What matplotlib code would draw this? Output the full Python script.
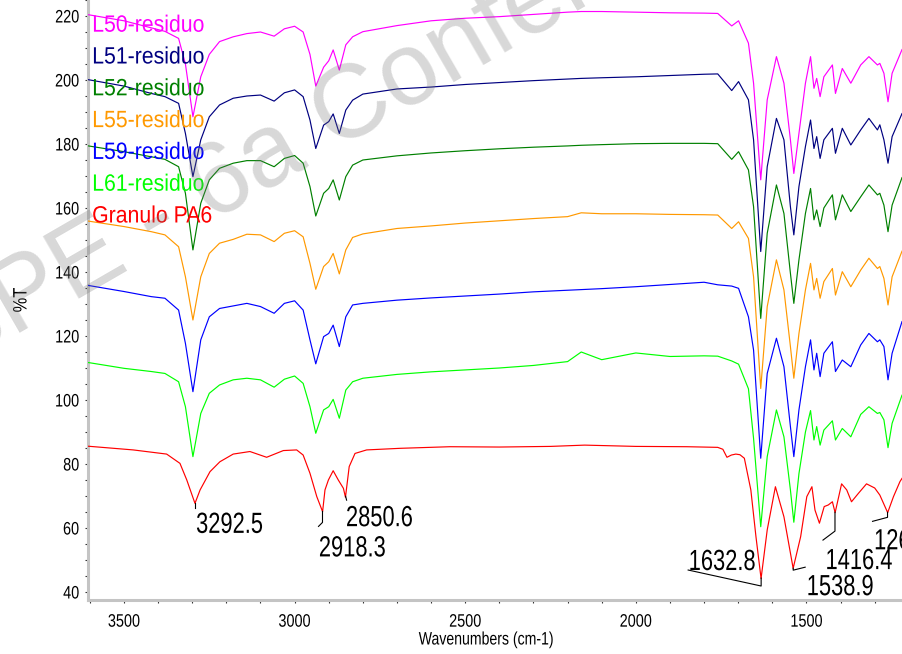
import numpy as np
import matplotlib
matplotlib.use("Agg")
import matplotlib.pyplot as plt
from matplotlib.lines import Line2D
from matplotlib.transforms import IdentityTransform, Affine2D
from matplotlib.ticker import MultipleLocator
from matplotlib.patheffects import AbstractPathEffect

# ---------------- data ----------------
wavenumber = [3610, 3500, 3420, 3380, 3340, 3320, 3298, 3275, 3250, 3220,
              3180, 3140, 3100, 3060, 3030, 3000, 2975, 2955, 2938, 2915,
              2900, 2887, 2869, 2850, 2830, 2800, 2700, 2600, 2500, 2400,
              2300, 2200, 2160, 2100, 2000, 1900, 1800, 1760, 1719, 1699,
              1670, 1655, 1634, 1615, 1588, 1566, 1547, 1537, 1522, 1503,
              1488, 1478, 1470, 1460, 1449, 1424, 1415, 1395, 1370, 1341,
              1317, 1292, 1285, 1273, 1261, 1249, 1220]

l50 = [220.5, 218.5, 216.3, 215.2, 213.0, 205.0, 188.5, 201.0, 208.0, 212.0,
       213.5, 214.5, 215.0, 213.7, 216.0, 216.8, 215.0, 208.0, 198.1, 204.0,
       206.0, 209.4, 203.1, 211.0, 213.5, 215.1, 217.0, 218.5, 219.3, 219.8,
       220.5, 221.2, 221.4, 221.4, 221.2, 221.0, 220.9, 220.8, 216.9, 218.5,
       211.5, 199.0, 168.8, 193.8, 207.3, 199.0, 181.3, 170.8, 183.3, 199.0,
       207.3, 197.4, 200.5, 194.8, 201.0, 204.7, 195.8, 203.6, 199.0, 204.7,
       207.3, 204.7, 205.2, 202.1, 193.2, 202.1, 209.5]

l51 = [200.2, 198.1, 195.8, 194.8, 192.7, 183.3, 169.8, 181.3, 188.5, 192.2,
       194.3, 195.0, 195.3, 193.4, 196.0, 196.9, 194.8, 187.5, 178.6, 185.9,
       187.0, 189.4, 183.3, 190.6, 193.7, 195.6, 197.2, 197.8, 198.6, 199.2,
       199.8, 200.3, 200.5, 200.7, 201.0, 201.4, 201.8, 201.9, 196.7, 199.5,
       193.8, 181.3, 146.4, 172.9, 188.0, 181.3, 160.4, 151.6, 166.7, 179.2,
       187.5, 178.6, 182.3, 175.5, 181.3, 184.9, 177.1, 184.9, 179.7, 184.4,
       188.0, 184.4, 186.0, 181.3, 174.0, 182.3, 189.5]

l52 = [179.5, 177.6, 176.0, 175.2, 172.9, 164.6, 146.9, 161.5, 168.8, 172.4,
       174.0, 174.8, 174.8, 172.9, 175.5, 176.4, 174.0, 166.7, 157.5, 164.6,
       166.1, 168.8, 162.5, 169.8, 173.4, 175.0, 176.3, 177.2, 177.9, 178.5,
       179.0, 179.4, 179.6, 179.8, 180.1, 180.2, 180.2, 180.1, 175.2, 177.6,
       171.9, 160.4, 125.5, 152.1, 167.2, 158.3, 139.6, 130.2, 143.8, 158.3,
       166.1, 156.3, 159.4, 154.2, 160.0, 164.1, 156.3, 164.1, 158.9, 163.5,
       167.2, 164.1, 164.6, 160.9, 152.6, 160.9, 169.5]

l55 = [156.0, 154.2, 152.6, 151.6, 147.9, 138.5, 125.0, 138.5, 145.8, 149.0,
       150.2, 151.8, 151.6, 149.5, 152.1, 152.9, 151.0, 142.7, 134.6, 141.7,
       143.2, 145.8, 139.4, 146.9, 150.8, 151.9, 153.6, 154.4, 155.3, 156.0,
       156.7, 157.3, 158.5, 158.2, 158.2, 158.0, 157.9, 157.8, 153.6, 155.7,
       150.5, 138.5, 103.6, 129.2, 143.8, 134.4, 116.7, 106.8, 120.8, 134.4,
       142.7, 134.4, 138.0, 131.8, 137.0, 141.1, 132.8, 140.1, 135.4, 140.6,
       144.3, 141.1, 141.7, 138.0, 129.7, 138.5, 146.5]

l59 = [135.9, 133.9, 132.3, 131.8, 128.1, 117.7, 102.6, 118.8, 126.0, 128.6,
       129.4, 130.2, 129.2, 127.1, 130.2, 131.0, 128.1, 118.8, 111.3, 119.8,
       120.8, 123.4, 116.7, 126.0, 129.7, 130.2, 131.2, 131.9, 132.5, 133.1,
       133.8, 134.3, 134.5, 134.8, 135.4, 136.1, 136.8, 136.0, 135.6, 134.9,
       126.0, 115.6, 81.8, 108.3, 119.3, 110.4, 91.7, 82.3, 96.9, 110.4,
       118.8, 109.4, 114.6, 107.3, 114.6, 118.2, 108.9, 112.5, 110.4, 117.2,
       120.8, 118.2, 118.8, 116.7, 106.3, 114.6, 124.5]

l61 = [111.8, 109.9, 108.9, 108.3, 105.7, 97.9, 82.3, 95.8, 102.1, 104.7,
       106.3, 106.8, 106.3, 104.0, 106.5, 107.5, 105.2, 97.9, 89.6, 96.9,
       97.9, 100.2, 94.3, 103.1, 105.7, 106.8, 108.0, 108.8, 109.4, 110.0,
       110.8, 112.0, 115.0, 112.6, 114.7, 113.6, 113.8, 113.7, 112.2, 111.2,
       103.5, 88.0, 60.4, 82.3, 96.9, 88.5, 71.9, 61.8, 77.0, 90.0,
       96.7, 87.5, 91.7, 85.9, 90.6, 93.5, 87.5, 91.1, 88.5, 95.5,
       97.9, 95.8, 96.1, 93.8, 85.1, 92.7, 101.5]

granulo_wn = [3610, 3473, 3375, 3336, 3316, 3292, 3277, 3248, 3219, 3180,
              3131, 3082, 3033, 2994, 2975, 2955, 2935, 2918, 2911, 2901,
              2887, 2872, 2857, 2851, 2840, 2823, 2789, 2691, 2545, 2400,
              2250, 2150, 2000, 1850, 1760, 1745, 1733, 1720, 1707, 1695,
              1682, 1663, 1648, 1633, 1615, 1591, 1566, 1539, 1517, 1499,
              1484, 1475, 1462, 1448, 1436, 1424, 1416, 1397, 1382, 1368,
              1348, 1324, 1300, 1285, 1262, 1245, 1226, 1220]
granulo_t = [85.6, 84.4, 83.1, 80.2, 75.0, 67.7, 71.9, 77.6, 80.7, 83.1,
             83.9, 82.1, 84.2, 84.4, 82.8, 77.1, 69.8, 65.1, 71.9, 75.0,
             77.9, 75.0, 72.4, 69.6, 79.2, 83.3, 84.4, 84.9, 85.4, 85.3,
             85.5, 85.9, 85.5, 85.4, 85.2, 84.6, 82.1, 82.8, 83.1, 82.9,
             81.8, 71.9, 57.3, 44.2, 59.4, 72.9, 63.5, 47.4, 57.3, 69.8,
             72.9, 65.6, 61.5, 66.7, 67.2, 68.2, 64.8, 73.8, 71.9, 68.2,
             70.8, 73.8, 72.5, 70.3, 64.8, 69.8, 74.5, 75.5]

series_names = ["L50-residuo", "L51-residuo", "L52-residuo", "L55-residuo",
                "L59-residuo", "L61-residuo", "Granulo PA6"]
series_colors = ["#ff00ff", "#000080", "#008000", "#ff9900",
                 "#0000ff", "#00ff00", "#ff0000"]

peak_wn = [3292.5, 2918.3, 2850.6, 1632.8, 1538.9, 1416.4, 1262.4]
peak_labels = ["3292.5", "2918.3", "2850.6", "1632.8", "1538.9", "1416.4", "1262.4"]


# ---------------- helpers ----------------
class Condense(AbstractPathEffect):
    """Draw text horizontally condensed (the reference uses a narrow face)."""

    def __init__(self, sx, anchor="left"):
        super().__init__()
        self._sx = sx
        self._anchor = anchor

    def draw_path(self, renderer, gc, tpath, affine, rgbFace=None):
        if len(tpath.vertices) == 0:
            return
        ext = tpath.get_extents()
        x0 = {"left": ext.x0, "right": ext.x1,
              "center": 0.5 * (ext.x0 + ext.x1)}[self._anchor]
        aff = Affine2D().translate(-x0, 0).scale(self._sx, 1).translate(x0, 0) + affine
        renderer.draw_path(gc, tpath, aff, rgbFace)


plt.rcParams["font.family"] = ["Liberation Sans", "DejaVu Sans"]

W, H = 902, 654
fig = plt.figure(figsize=(W / 100, H / 100), dpi=100)
ax = fig.add_axes([88 / W, (H - 599.5) / H, (W - 88) / W, 599.5 / H])

residues = [l50, l51, l52, l55, l59, l61]
for vals, col in zip(residues, series_colors[:6]):
    ax.plot(wavenumber, vals, color=col, lw=0.85, zorder=3)
ax.plot(granulo_wn, granulo_t, color=series_colors[6], lw=0.85, zorder=3)

ax.set_xlim(3605.5, 1220)
ax.set_ylim(220 - 583.5 / 3.2, 225)

ax.xaxis.set_major_locator(MultipleLocator(500))
ax.xaxis.set_minor_locator(MultipleLocator(100))
ax.yaxis.set_major_locator(MultipleLocator(20))
ax.yaxis.set_minor_locator(MultipleLocator(5))
ax.tick_params(which="both", direction="out", length=2.2, width=0.8, color="#333333")
ax.tick_params(axis="x", which="major", labelsize=13, pad=8)
ax.tick_params(axis="y", which="major", labelsize=13, pad=4)

for s in ("top", "right"):
    ax.spines[s].set_visible(False)
for s in ("left", "bottom"):
    ax.spines[s].set_color("#c4c4c4")
    ax.spines[s].set_linewidth(2.2)

fig.text(486 / W, 1 - 640 / H, "Wavenumbers (cm-1)", ha="center", va="center",
         fontsize=13, path_effects=[Condense(0.78, "center")])
fig.text(22 / W, 1 - 300 / H, "%T", rotation=90, ha="center", va="center",
         fontsize=14, path_effects=[Condense(0.85, "center")])

# series labels (coloured texts at top-left)
for i, (name, col) in enumerate(zip(series_names, series_colors)):
    yb = 31.7 + i * 31.8
    fig.text(92 / W, 1 - yb / H, name, color=col, fontsize=17,
             ha="left", va="baseline", zorder=5,
             path_effects=[Condense(0.9, "left")])

fig.canvas.draw()
for t in ax.xaxis.get_major_ticks():
    t.label1.set_path_effects([Condense(0.8, "center")])
for t in ax.yaxis.get_major_ticks():
    t.label1.set_path_effects([Condense(0.8, "right")])

# peak annotations on the Granulo PA6 trace
rw = np.array(granulo_wn)[::-1]
rt = np.array(granulo_t)[::-1]
# (leader path in pixel offsets, text baseline offset); y positive = down
ann_style = [
    ([(0, 0), (0, 5)], (1, 30)),
    ([(0, 0), (0, 11), (-4, 15)], (-4, 45)),
    ([(0, 0), (1, 4)], (0, 30)),
    ([(0, 0), (0, 8), (-73, -8)], (-73, -8)),
    ([(0, 0), (0, 2), (12, -1)], (13, 27)),
    ([(0, 0), (0, 19), (-12, 28)], (-10, 57)),
    ([(0, 0), (0, 5), (-15, 9)], (-14, 37)),
]
for wn, lab, (path, toff) in zip(peak_wn, peak_labels, ann_style):
    t = float(np.interp(wn, rw, rt))
    px, py = ax.transData.transform((wn, t))
    xs = [px + dx for dx, dy in path]
    ys = [py - dy for dx, dy in path]
    fig.add_artist(Line2D(xs, ys, transform=IdentityTransform(), color="black",
                          lw=0.8, zorder=6))
    ax.annotate(lab, xy=(wn, t), xytext=(toff[0], -toff[1]), textcoords="offset pixels",
                ha="left", va="baseline", fontsize=21, color="black",
                annotation_clip=False, zorder=6,
                path_effects=[Condense(0.75, "left")])

# watermark
fig.text(-46 / W, 1 - 371 / H, "SPE - 6a Conference", ha="left", va="baseline",
         rotation=30, rotation_mode="anchor", fontsize=74,
         color="0.45", alpha=0.28, zorder=10)

fig.savefig("out.png", dpi=100)
